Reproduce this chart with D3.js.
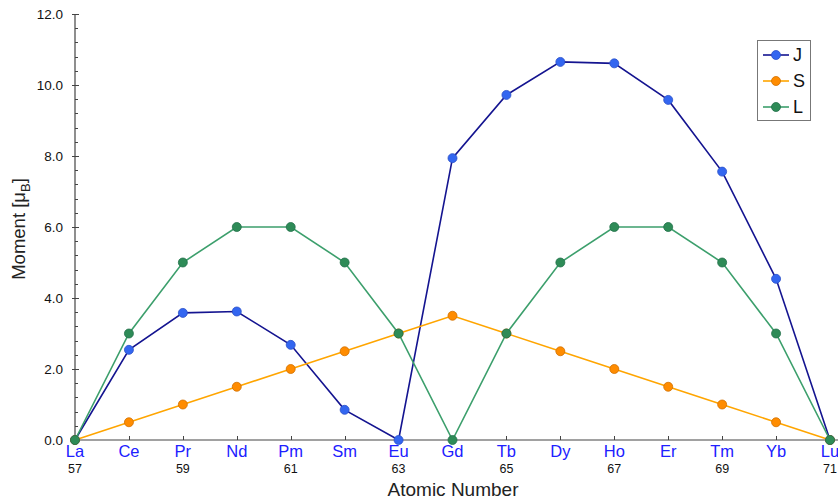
<!DOCTYPE html>
<html>
<head>
<meta charset="utf-8">
<script src="https://cdn.jsdelivr.net/npm/d3@7"></script>
<style>
  html, body { margin: 0; padding: 0; background: #fff; }
  svg { display: block; font-family: "Liberation Sans", Arial, sans-serif; }
</style>
</head>
<body>
<svg id="chart" width="838" height="502"></svg>
<script>
// Lanthanide series, atomic numbers 57–71
const elements = ["La","Ce","Pr","Nd","Pm","Sm","Eu","Gd","Tb","Dy","Ho","Er","Tm","Yb","Lu"];
const atomicNumbers = [57,58,59,60,61,62,63,64,65,66,67,68,69,70,71];
const numberLabels = [57,59,61,63,65,67,69,71];

// Moments in Bohr magnetons
const momentJ = [0, 2.54, 3.58, 3.62, 2.68, 0.85, 0, 7.94, 9.72, 10.65, 10.61, 9.58, 7.56, 4.54, 0];
const momentS = [0, 0.5, 1.0, 1.5, 2.0, 2.5, 3.0, 3.5, 3.0, 2.5, 2.0, 1.5, 1.0, 0.5, 0];
const momentL = [0, 3, 5, 6, 6, 5, 3, 0, 3, 5, 6, 6, 5, 3, 0];

const yTicks = [0, 2, 4, 6, 8, 10, 12];

const series = [
  { name: "J", values: momentJ, line: "#141490", fill: "#3366f0", stroke: "#2a4fc8" },
  { name: "S", values: momentS, line: "#ffa500", fill: "#ff8c00", stroke: "#d07000" },
  { name: "L", values: momentL, line: "#3c9f6c", fill: "#2e8b57", stroke: "#22704a" }
];

const svg = d3.select("#chart");
const x = d3.scaleLinear().domain([57, 71]).range([75, 830]);
const y = d3.scaleLinear().domain([0, 12]).range([440, 14]);

const axisColor = "#444";

// Y axis
const yAxisG = svg.append("g");
yAxisG.append("line")
  .attr("x1", x(57)).attr("x2", x(57))
  .attr("y1", y(0)).attr("y2", y(12))
  .attr("stroke", axisColor).attr("stroke-width", 1.2);
const minorY = d3.range(0, 12.001, 0.4).filter(v => Math.abs(v / 2 - Math.round(v / 2)) > 1e-6);
yAxisG.selectAll("line.minor").data(minorY).join("line")
  .attr("class", "minor")
  .attr("x1", x(57)).attr("x2", x(57) + 3)
  .attr("y1", d => Math.round(y(d)) + 0.5).attr("y2", d => Math.round(y(d)) + 0.5)
  .attr("stroke", axisColor).attr("stroke-width", 1);
yAxisG.selectAll("line.major").data(yTicks).join("line")
  .attr("class", "major")
  .attr("x1", x(57) - 3).attr("x2", x(57) + 4)
  .attr("y1", d => Math.round(y(d)) + 0.5).attr("y2", d => Math.round(y(d)) + 0.5)
  .attr("stroke", axisColor).attr("stroke-width", 1);
yAxisG.selectAll("text").data(yTicks).join("text")
  .attr("x", 63).attr("y", d => y(d))
  .attr("dy", "0.35em")
  .attr("text-anchor", "end")
  .attr("font-size", 13.5)
  .attr("fill", "#111")
  .text(d => d3.format(".1f")(d));

// X axis
const xAxisG = svg.append("g");
xAxisG.append("line")
  .attr("x1", x(57)).attr("x2", 838)
  .attr("y1", y(0)).attr("y2", y(0))
  .attr("stroke", axisColor).attr("stroke-width", 1.2);
xAxisG.selectAll("line.tick").data(atomicNumbers).join("line")
  .attr("class", "tick")
  .attr("x1", d => Math.round(x(d)) + 0.5).attr("x2", d => Math.round(x(d)) + 0.5)
  .attr("y1", y(0)).attr("y2", y(0) - 4)
  .attr("stroke", axisColor).attr("stroke-width", 1);
xAxisG.selectAll("text.el").data(elements).join("text")
  .attr("class", "el")
  .attr("x", (d, i) => x(atomicNumbers[i]))
  .attr("y", 457)
  .attr("text-anchor", "middle")
  .attr("font-size", 16.5)
  .attr("fill", "#2020ff")
  .text(d => d);
xAxisG.selectAll("text.num").data(numberLabels).join("text")
  .attr("class", "num")
  .attr("x", d => x(d))
  .attr("y", 473)
  .attr("text-anchor", "middle")
  .attr("font-size", 12.5)
  .attr("fill", "#111")
  .text(d => d);

// Axis titles
svg.append("text")
  .attr("x", 453).attr("y", 496)
  .attr("text-anchor", "middle")
  .attr("font-size", 19)
  .attr("fill", "#222")
  .text("Atomic Number");

const yTitle = svg.append("text")
  .attr("transform", "translate(25,229) rotate(-90)")
  .attr("text-anchor", "middle")
  .attr("font-size", 18.5)
  .attr("fill", "#222");
yTitle.append("tspan").text("Moment [μ");
yTitle.append("tspan").attr("font-size", 13).attr("dy", 5).text("B");
yTitle.append("tspan").attr("dy", -5).text("]");

// Series
const line = d3.line()
  .x((d, i) => x(atomicNumbers[i]))
  .y(d => y(d));

series.forEach(s => {
  const g = svg.append("g");
  g.append("path")
    .attr("d", line(s.values))
    .attr("fill", "none")
    .attr("stroke", s.line)
    .attr("stroke-width", 1.6);
  g.selectAll("circle").data(s.values).join("circle")
    .attr("cx", (d, i) => x(atomicNumbers[i]))
    .attr("cy", d => y(d))
    .attr("r", 4.5)
    .attr("fill", s.fill)
    .attr("stroke", s.stroke)
    .attr("stroke-width", 0.8);
});

// Legend
const legend = svg.append("g");
legend.append("rect")
  .attr("x", 757.5).attr("y", 40.5)
  .attr("width", 53).attr("height", 80)
  .attr("fill", "#fff")
  .attr("stroke", "#777").attr("stroke-width", 1);
series.forEach((s, i) => {
  const ly = 55 + i * 26;
  legend.append("line")
    .attr("x1", 763).attr("x2", 789)
    .attr("y1", ly).attr("y2", ly)
    .attr("stroke", s.line).attr("stroke-width", 1.6);
  legend.append("circle")
    .attr("cx", 776).attr("cy", ly).attr("r", 4.5)
    .attr("fill", s.fill).attr("stroke", s.stroke).attr("stroke-width", 0.8);
  legend.append("text")
    .attr("x", 793).attr("y", ly)
    .attr("dy", "0.36em")
    .attr("font-size", 18)
    .attr("fill", "#111")
    .text(s.name);
});
</script>
</body>
</html>
